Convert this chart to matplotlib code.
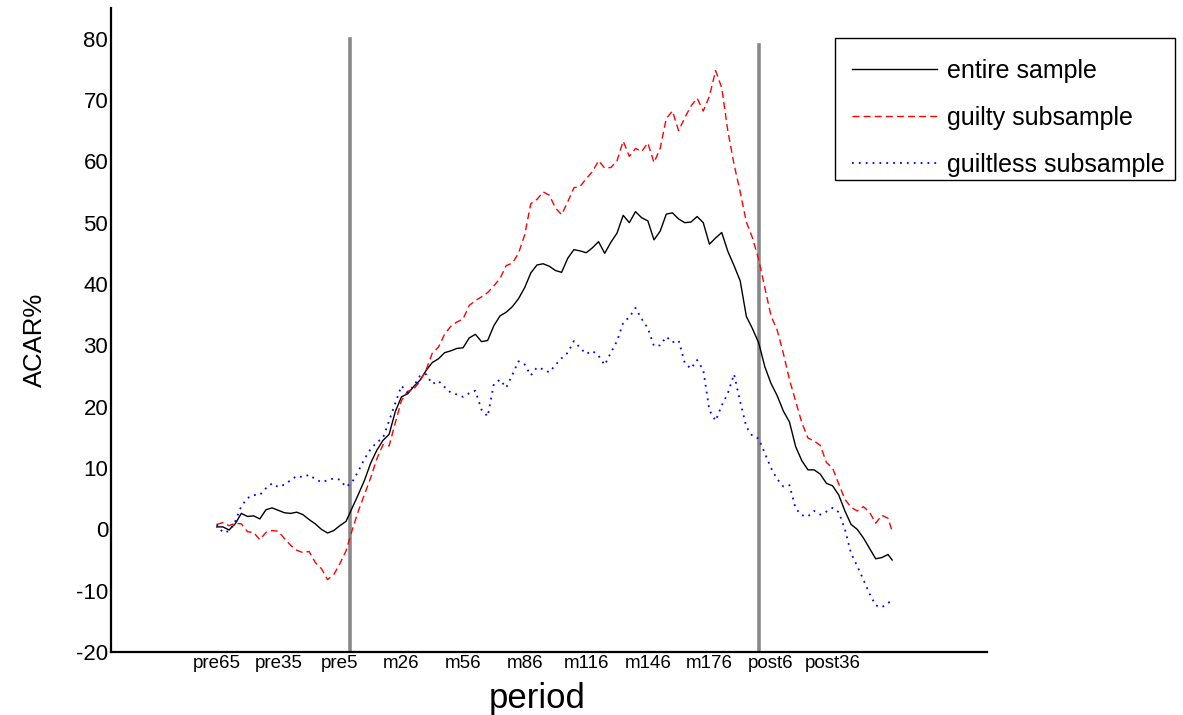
import matplotlib
matplotlib.use("Agg")
import matplotlib.pyplot as plt
from matplotlib.patches import Rectangle

plt.rcParams['font.family'] = ['Liberation Sans', 'DejaVu Sans']
plt.rcParams['axes.unicode_minus'] = False

# event periods: 65 pre-event, 200 event-window, 65 post-event
periods = ([f"pre{k}" for k in range(65, 0, -1)]
           + [f"m{k}" for k in range(1, 201)]
           + [f"post{k}" for k in range(1, 66)])

# values every 3rd period (plus the last one)
sample_periods = [periods[i] for i in list(range(0, 328, 3)) + [329]]

entire = [0.4, 0.4, -0.1, 0.9, 2.6, 2.1, 2.2, 1.7, 3.2, 3.5,
          3.1, 2.7, 2.6, 2.8, 2.4, 1.6, 0.9, 0.0, -0.6, -0.2,
          0.6, 1.3, 3.5, 5.7, 8.0, 10.8, 12.9, 14.5, 15.5, 19.2,
          21.6, 22.1, 23.3, 24.3, 25.9, 27.2, 27.8, 28.8, 29.1, 29.5,
          29.6, 31.2, 31.8, 30.6, 30.8, 33.2, 34.8, 35.4, 36.3, 37.6,
          39.4, 41.8, 43.1, 43.3, 42.9, 42.2, 41.9, 44.2, 45.6, 45.4,
          45.1, 45.9, 46.9, 45.0, 46.8, 48.3, 51.2, 50.0, 51.8, 50.8,
          50.3, 47.2, 48.6, 51.4, 51.6, 50.6, 50.0, 50.1, 51.0, 50.0,
          46.5, 47.5, 48.4, 45.3, 43.0, 40.5, 34.7, 32.7, 30.4, 26.5,
          23.8, 21.8, 19.3, 17.5, 13.5, 11.2, 9.7, 9.7, 9.0, 7.5,
          7.1, 5.6, 3.0, 0.8, 0.0, -1.4, -3.1, -4.8, -4.6, -4.1,
          -5.0]

guilty = [0.8, 1.1, 0.6, 1.0, 0.9, -0.4, -0.5, -1.7, -0.5, -0.2,
          -0.3, -1.5, -2.6, -3.4, -3.8, -3.6, -5.4, -6.4, -8.2, -7.4,
          -5.6, -3.5, -0.1, 3.0, 5.7, 8.4, 11.5, 13.8, 13.6, 17.4,
          21.0, 22.5, 22.9, 24.1, 26.0, 28.7, 29.7, 31.8, 33.1, 33.8,
          34.3, 36.5, 37.3, 37.9, 38.6, 39.7, 40.9, 43.0, 43.4, 45.0,
          48.0, 53.1, 53.8, 55.0, 54.5, 52.4, 51.3, 53.4, 55.7, 55.9,
          57.2, 58.3, 60.1, 58.9, 59.0, 60.1, 63.3, 60.8, 62.1, 61.6,
          63.0, 59.8, 62.1, 67.0, 68.2, 65.0, 67.1, 69.0, 70.3, 68.2,
          70.6, 74.8, 72.0, 64.9, 59.5, 55.0, 50.1, 47.5, 44.0, 39.4,
          34.8, 32.5, 28.7, 24.4, 20.9, 17.4, 14.9, 14.4, 13.7, 10.9,
          10.0, 7.4, 4.9, 3.6, 3.0, 3.7, 2.8, 1.0, 2.3, 1.8,
          -0.3]

guiltless = [0.8, -0.5, -0.3, 1.3, 3.8, 5.1, 5.6, 5.6, 6.7, 7.5,
             6.9, 7.3, 8.0, 8.7, 8.5, 8.9, 8.2, 7.7, 8.0, 8.3,
             8.1, 6.9, 7.7, 9.5, 11.5, 13.1, 14.2, 14.9, 17.7, 20.6,
             23.4, 22.3, 23.4, 25.0, 25.3, 23.7, 24.2, 23.2, 22.3, 22.0,
             21.6, 22.2, 22.6, 19.5, 18.4, 23.7, 24.4, 23.1, 25.2, 27.4,
             26.9, 25.1, 26.4, 26.1, 25.6, 26.8, 27.9, 28.8, 30.7, 29.6,
             28.6, 29.1, 28.3, 26.8, 28.8, 30.7, 33.7, 34.6, 36.1, 34.3,
             32.8, 29.9, 30.0, 31.4, 30.5, 30.8, 27.1, 26.2, 27.6, 26.0,
             19.4, 17.7, 20.2, 22.2, 25.3, 20.8, 16.7, 15.2, 14.8, 12.4,
             10.0, 8.2, 7.0, 7.2, 3.4, 2.3, 2.1, 3.0, 2.4, 2.9,
             3.5, 2.8, 0.0, -3.9, -6.0, -8.2, -10.5, -12.4, -12.7, -12.0,
             -11.6]

event_bounds = ["m1", "m200"]
event_tops = [80, 79]
tick_periods = periods[0:301:30]

pos = {p: i for i, p in enumerate(periods)}
xs = [pos[p] for p in sample_periods]

fig = plt.figure(figsize=(11.83, 7.15), dpi=100)
ax = fig.add_axes([0.0938, 0.0881, 0.7405, 0.9007])

ax.plot(xs, entire, color='black', lw=1.0, label='entire sample')
ax.plot(xs, guilty, color='#ff0000', lw=1.0, linestyle=(0, (5, 3)),
        label='guilty subsample')
ax.plot(xs, guiltless, color='#0000ff', lw=1.3, linestyle=(0, (1, 2.8)),
        label='guiltless subsample')

for p, top in zip(event_bounds, event_tops):
    ax.plot([pos[p], pos[p]], [-20, top], color='#888888', lw=2.6, zorder=1)

ax.set_xlim(-51.5, 375.2)
ax.set_ylim(-20, 85)
ax.set_yticks(range(-20, 81, 10))
ax.set_xticks([pos[p] for p in tick_periods])
ax.set_xticklabels(tick_periods, fontsize=13.5)
ax.tick_params(axis='y', length=0, pad=2, labelsize=16)
ax.tick_params(axis='x', length=0, pad=2)

for s in ['top', 'right']:
    ax.spines[s].set_visible(False)
for s in ['left', 'bottom']:
    ax.spines[s].set_linewidth(1.6)

ax.set_xlabel('period', fontsize=25)
ax.set_ylabel('ACAR%', fontsize=18.5)
ax.xaxis.set_label_coords(0.486, -0.046)
ax.yaxis.set_label_coords(-0.073, 0.485)

# legend frame drawn separately so the entries can sit where they do in the original
fig.patches.append(Rectangle((835 / 1183, 1 - 180 / 715), 340 / 1183, 142 / 715,
                             transform=fig.transFigure, fill=False,
                             edgecolor='black', lw=1.0))
leg = ax.legend(loc='upper left', bbox_to_anchor=(852 / 1183, 1 - 59 / 715),
                bbox_transform=fig.transFigure, fontsize=18, frameon=False,
                handlelength=3.4, handletextpad=0.4, labelspacing=0.92,
                borderpad=0, borderaxespad=0)

fig.savefig('out.png', dpi=100)
